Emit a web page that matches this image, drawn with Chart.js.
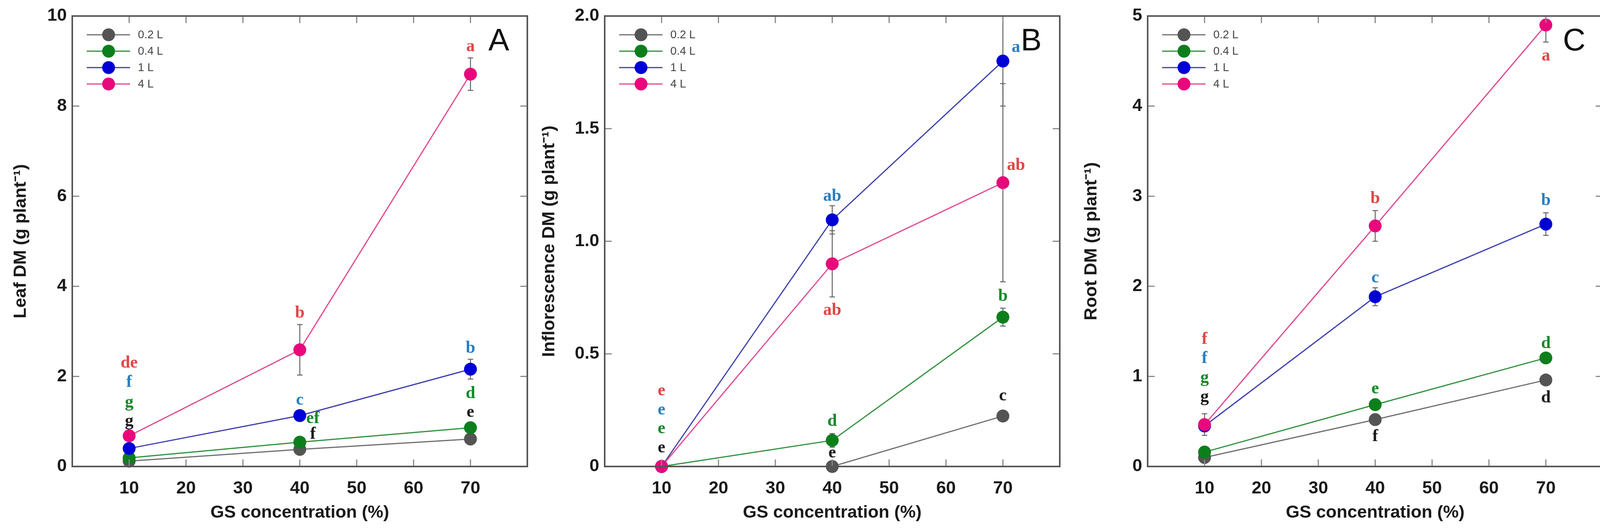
<!DOCTYPE html>
<html>
<head>
<meta charset="utf-8">
<script src="https://cdn.jsdelivr.net/npm/chart.js@4.4.1/dist/chart.umd.min.js"></script>
<style>
  html, body { margin: 0; padding: 0; background: #fff; }
  #wrap { position: relative; width: 4126px; height: 1354px; overflow: hidden; background: #fff; }
  canvas { position: absolute; top: 0; }
</style>
</head>
<body>
<div id="wrap">
  <canvas id="panelA" width="1370" height="1354" style="left:0px;width:1370px;height:1354px"></canvas>
  <canvas id="panelB" width="1370" height="1354" style="left:1370px;width:1370px;height:1354px"></canvas>
  <canvas id="panelC" width="1386" height="1354" style="left:2740px;width:1386px;height:1354px"></canvas>
</div>
<script>
// GS konsantrasyonu (%)
const concentrations = [10, 40, 70];
const xTicks = [10, 20, 30, 40, 50, 60, 70];
const seriesNames = ['0.2 L', '0.4 L', '1 L', '4 L'];

// A - Leaf DM
const leaf02 = [0.12, 0.38, 0.61];
const leaf04 = [0.19, 0.54, 0.86];
const leaf1 = [0.40, 1.13, 2.16];
const leaf4 = [0.68, 2.59, 8.71];
const leafErr02 = [0.02, 0.03, 0.04];
const leafErr04 = [0.02, 0.04, 0.05];
const leafErr1 = [0.05, 0.08, 0.22];
const leafErr4 = [0.08, 0.56, 0.36];
const leafTicks = [0, 2, 4, 6, 8, 10];
const leafTickLabels = ['0', '2', '4', '6', '8', '10'];
const leafLetters = [
    [10, 2.29, 'de', 3], [10, 1.87, 'f', 2], [10, 1.42, 'g', 1], [10, 1.00, 'g', 0],
    [40, 3.40, 'b', 3], [40, 1.47, 'c', 2], [42.3, 1.06, 'ef', 1], [42.3, 0.71, 'f', 0],
    [70, 9.32, 'a', 3], [70, 2.62, 'b', 2], [70, 1.62, 'd', 1], [70, 1.20, 'e', 0]
];

// B - Inflorescence DM
const infl02 = [0, 0, 0.224];
const infl04 = [0, 0.116, 0.663];
const infl1 = [0, 1.095, 1.80];
const infl4 = [0, 0.90, 1.26];
const inflErr02 = [0, 0, 0.01];
const inflErr04 = [0, 0.03, 0.04];
const inflErr1 = [0, 0.063, 0.20];
const inflErr4 = [0, 0.147, 0.44];
const inflTicks = [0, 0.5, 1.0, 1.5, 2.0];
const inflTickLabels = ['0', '0.5', '1.0', '1.5', '2.0'];
const inflLetters = [
    [10, 0.335, 'e', 3], [10, 0.25, 'e', 2], [10, 0.167, 'e', 1], [10, 0.082, 'e', 0],
    [40, 1.20, 'ab', 2], [40, 0.693, 'ab', 3], [40, 0.20, 'd', 1], [40, 0.06, 'e', 0],
    [72.3, 1.86, 'a', 2], [72.3, 1.337, 'ab', 3], [70, 0.756, 'b', 1], [70, 0.313, 'c', 0]
];

// C - Root DM
const root02 = [0.10, 0.52, 0.96];
const root04 = [0.16, 0.686, 1.205];
const root1 = [0.45, 1.884, 2.69];
const root4 = [0.465, 2.67, 4.90];
const rootErr02 = [0.02, 0.03, 0.03];
const rootErr04 = [0.02, 0.03, 0.03];
const rootErr1 = [0.05, 0.10, 0.125];
const rootErr4 = [0.12, 0.17, 0.19];
const rootTicks = [0, 1, 2, 3, 4, 5];
const rootTickLabels = ['0', '1', '2', '3', '4', '5'];
const rootLetters = [
    [10, 1.41, 'f', 3], [10, 1.20, 'f', 2], [10, 0.98, 'g', 1], [10, 0.77, 'g', 0],
    [40, 2.97, 'b', 3], [40, 2.09, 'c', 2], [40, 0.86, 'e', 1], [40, 0.33, 'f', 0],
    [70, 4.555, 'a', 3], [70, 2.95, 'b', 2], [70, 1.365, 'd', 1], [70, 0.76, 'd', 0]
];

// seri renkleri
const lineColors = ['#6e6e6e', '#2f8f3c', '#3c3cae', '#e2468f'];
const markerColors = ['#545454', '#0c7f1c', '#0000d6', '#e8087c'];
const letterColors = ['#1a1a1a', '#16892a', '#2a7fbf', '#e04646'];

// Çerçeve, iç tikler, hata çubukları, harfler ve lejant
const panelPlugin = {
    id: 'panelDeco',
    beforeDatasetsDraw(chart, args, opts) {
        const { ctx, chartArea: a } = chart;
        const x = chart.scales.x, y = chart.scales.y;
        ctx.save();
        ctx.beginPath();
        ctx.rect(a.left, a.top, a.right - a.left, a.bottom - a.top);
        ctx.clip();
        ctx.strokeStyle = '#666';
        ctx.lineWidth = 2.5;
        opts.errors.forEach((errs, i) => {
            const vals = chart.data.datasets[i].data;
            errs.forEach((e, j) => {
                if (!e) return;
                const px = x.getPixelForValue(vals[j].x);
                const y1 = y.getPixelForValue(vals[j].y + e);
                const y2 = y.getPixelForValue(vals[j].y - e);
                ctx.beginPath();
                ctx.moveTo(px, y1); ctx.lineTo(px, y2);
                ctx.moveTo(px - 7, y1); ctx.lineTo(px + 7, y1);
                ctx.moveTo(px - 7, y2); ctx.lineTo(px + 7, y2);
                ctx.stroke();
            });
        });
        ctx.restore();
    },
    afterDatasetsDraw(chart, args, opts) {
        const { ctx, chartArea: a } = chart;
        const x = chart.scales.x, y = chart.scales.y;
        ctx.save();

        // iç tikler
        ctx.strokeStyle = '#8a8a8a';
        ctx.lineWidth = 3;
        const tl = 18;
        ctx.beginPath();
        xTicks.forEach(v => {
            const px = x.getPixelForValue(v);
            ctx.moveTo(px, a.bottom); ctx.lineTo(px, a.bottom - tl);
            ctx.moveTo(px, a.top); ctx.lineTo(px, a.top + tl);
        });
        opts.yTicks.forEach(v => {
            const py = y.getPixelForValue(v);
            ctx.moveTo(a.left, py); ctx.lineTo(a.left + tl, py);
            ctx.moveTo(a.right, py); ctx.lineTo(a.right - tl, py);
        });
        ctx.stroke();

        // çerçeve
        ctx.strokeStyle = '#555';
        ctx.lineWidth = 4;
        ctx.strokeRect(a.left, a.top, a.right - a.left, a.bottom - a.top);

        // anlamlılık harfleri
        ctx.font = 'bold 44px "Liberation Serif", "Times New Roman", serif';
        ctx.textAlign = 'center';
        ctx.textBaseline = 'middle';
        opts.letters.forEach(([lx, ly, t, s]) => {
            ctx.fillStyle = letterColors[s];
            ctx.fillText(t, x.getPixelForValue(lx), y.getPixelForValue(ly));
        });

        // lejant
        chart.data.datasets.forEach((ds, i) => {
            const ly = a.top + 48 + i * 42;
            ctx.strokeStyle = ds.borderColor;
            ctx.lineWidth = 3;
            ctx.beginPath();
            ctx.moveTo(a.left + 37, ly); ctx.lineTo(a.left + 148, ly);
            ctx.stroke();
            ctx.fillStyle = ds.pointBackgroundColor;
            ctx.beginPath();
            ctx.arc(a.left + 93, ly, 16.5, 0, Math.PI * 2);
            ctx.fill();
            ctx.fillStyle = '#444';
            ctx.font = '29px "Liberation Sans", Arial, sans-serif';
            ctx.textAlign = 'left';
            ctx.fillText(ds.label, a.left + 168, ly + 1);
        });

        // panel harfi
        ctx.fillStyle = '#111';
        ctx.font = '80px "Liberation Sans", Arial, sans-serif';
        ctx.textAlign = 'center';
        ctx.fillText(opts.panel, a.right - 73, a.top + 66);
        ctx.restore();
    }
};

function makeDatasets(seriesValues) {
    return seriesValues.map((vals, i) => ({
        label: seriesNames[i],
        data: concentrations.map((c, j) => ({ x: c, y: vals[j] })),
        borderColor: lineColors[i],
        backgroundColor: markerColors[i],
        pointBackgroundColor: markerColors[i],
        pointBorderWidth: 0,
        pointRadius: 16.5,
        pointHoverRadius: 16.5,
        borderWidth: 3,
        tension: 0,
        clip: false,
        order: 4 - i
    }));
}

function drawPanel(id, cfg) {
    const ctx = document.getElementById(id);
    return new Chart(ctx, {
        type: 'line',
        data: { datasets: makeDatasets(cfg.series) },
        plugins: [panelPlugin],
        options: {
            responsive: false,
            animation: false,
            devicePixelRatio: 1,
            layout: { padding: { left: 0, top: 32, right: cfg.rightPad, bottom: 0 } },
            plugins: {
                legend: { display: false },
                tooltip: { enabled: false },
                panelDeco: { errors: cfg.errors, letters: cfg.letters, yTicks: cfg.yTicks, panel: cfg.panel }
            },
            scales: {
                x: {
                    type: 'linear',
                    min: 0,
                    max: 80,
                    afterBuildTicks: s => { s.ticks = xTicks.map(v => ({ value: v })); },
                    afterFit: s => { s.height = 160; },
                    grid: { display: false, drawTicks: false },
                    border: { display: false },
                    ticks: { font: { family: '"Liberation Sans", Arial, sans-serif', size: 45, weight: 'bold' }, color: '#1a1a1a', padding: 30, maxRotation: 0, autoSkip: false },
                    title: {
                        display: true,
                        text: 'GS concentration (%)',
                        font: { family: '"Liberation Sans", Arial, sans-serif', size: 45, weight: 'bold' },
                        color: '#1a1a1a',
                        padding: { top: 0, bottom: 14 }
                    }
                },
                y: {
                    type: 'linear',
                    min: 0,
                    max: cfg.yTicks[cfg.yTicks.length - 1],
                    afterBuildTicks: s => { s.ticks = cfg.yTicks.map(v => ({ value: v })); },
                    afterFit: s => { s.width = cfg.yWidth; },
                    grid: { display: false, drawTicks: false },
                    border: { display: false },
                    ticks: {
                        font: { family: '"Liberation Sans", Arial, sans-serif', size: 45, weight: 'bold' },
                        color: '#1a1a1a',
                        padding: 14,
                        autoSkip: false,
                        callback: (v, i) => cfg.yTickLabels[i]
                    },
                    title: {
                        display: true,
                        text: cfg.yTitle,
                        font: { family: '"Liberation Sans", Arial, sans-serif', size: 45, weight: 'bold' },
                        color: '#1a1a1a',
                        padding: { top: cfg.titlePad, bottom: 0 }
                    }
                }
            }
        }
    });
}

drawPanel('panelA', {
    series: [leaf02, leaf04, leaf1, leaf4],
    errors: [leafErr02, leafErr04, leafErr1, leafErr4],
    letters: leafLetters,
    yTicks: leafTicks,
    yTickLabels: leafTickLabels,
    yTitle: 'Leaf DM (g plant\u207B\u00B9)',
    panel: 'A',
    yWidth: 185,
    rightPad: 20,
    titlePad: 27
});

drawPanel('panelB', {
    series: [infl02, infl04, infl1, infl4],
    errors: [inflErr02, inflErr04, inflErr1, inflErr4],
    letters: inflLetters,
    yTicks: inflTicks,
    yTickLabels: inflTickLabels,
    yTitle: 'Inflorescence DM (g plant\u207B\u00B9)',
    panel: 'B',
    yWidth: 178,
    rightPad: 27,
    titlePad: 10
});

drawPanel('panelC', {
    series: [root02, root04, root1, root4],
    errors: [rootErr02, rootErr04, rootErr1, rootErr4],
    letters: rootLetters,
    yTicks: rootTicks,
    yTickLabels: rootTickLabels,
    yTitle: 'Root DM (g plant\u207B\u00B9)',
    panel: 'C',
    yWidth: 198,
    rightPad: 23,
    titlePad: 28
});
</script>
</body>
</html>
